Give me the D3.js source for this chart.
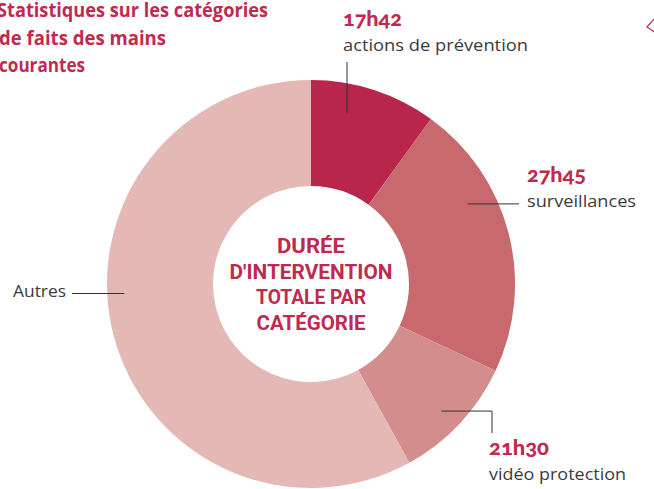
<!DOCTYPE html>
<html>
<head>
<meta charset="utf-8">
<script src="https://cdn.jsdelivr.net/npm/d3@7"></script>
<style>
  body { margin: 0; background: #fff; }
  svg { display: block; }
</style>
</head>
<body>
<svg id="chart"></svg>
<script>
// données
const categories = ["actions de prévention", "surveillances", "vidéo protection", "Autres"];
const durations = ["17h42", "27h45", "21h30", ""];
const shares = [10, 22, 10, 58]; // part angulaire (%) de chaque secteur
const colors = ["#b8264b", "#c7696d", "#d48d8d", "#e4b8b5"];

const titleLines = ["Statistiques sur les catégories", "de faits des mains", "courantes"];
const centerLines = ["DURÉE", "D'INTERVENTION", "TOTALE PAR", "CATÉGORIE"];

const config = {
    width: 654,
    height: 489,
    cx: 311,
    cy: 284,
    outer: 204,
    inner: 98
};

const crimson = "#bf2a50";
const textGray = "#3a3a3a";

const svg = d3.select("#chart")
    .attr("width", config.width)
    .attr("height", config.height);

// titre
const titleLen = [271, 167, 86];
svg.append("g")
    .selectAll("text")
    .data(titleLines)
    .join("text")
    .attr("x", (d, i) => [-3, -1, -1][i])
    .attr("y", (d, i) => 17 + i * 27.7)
    .attr("fill", crimson)
    .attr("font-family", "'Open Sans', sans-serif")
    .attr("font-weight", "bold")
    .attr("font-size", "20px")
    .attr("textLength", (d, i) => titleLen[i])
    .attr("lengthAdjust", "spacingAndGlyphs")
    .text(d => d);

// petit losange en haut à droite
svg.append("path")
    .attr("d", "M656,17 L647,27 L656,33")
    .attr("fill", "none")
    .attr("stroke", crimson)
    .attr("stroke-width", 1.2);

// donut
const pie = d3.pie().sort(null).value(d => d);
const arcs = pie(shares);
const arc = d3.arc().innerRadius(config.inner).outerRadius(config.outer);
const color = d3.scaleOrdinal().domain(categories).range(colors);

const g = svg.append("g")
    .attr("transform", `translate(${config.cx},${config.cy})`);

g.selectAll("path")
    .data(arcs)
    .join("path")
    .attr("d", arc)
    .attr("fill", (d, i) => color(categories[i]));

// texte central
const centerLen = [68, 163, 110, 109];
g.selectAll("text.center")
    .data(centerLines)
    .join("text")
    .attr("class", "center")
    .attr("x", 0)
    .attr("y", (d, i) => -31 + i * 25.6)
    .attr("text-anchor", "middle")
    .attr("fill", crimson)
    .attr("font-family", "Roboto, sans-serif")
    .attr("font-weight", "bold")
    .attr("font-size", "19.5px")
    .attr("textLength", (d, i) => centerLen[i])
    .attr("lengthAdjust", "spacingAndGlyphs")
    .text(d => d);

// étiquettes : point d'ancrage sur le secteur + coude + texte
const labelLayout = [
    {frac: 0.33, r: 175, path: p => [p, [p[0], 62]], tx: 343, ty: 26, dLen: 59, cLen: 185},
    {frac: 0.34, r: 176, path: p => [p, [519, p[1]]], tx: 527, ty: 182, dLen: 59, cLen: 109},
    {frac: 0.53, r: 182, path: p => [p, [492, p[1]], [492, 433]], tx: 489, ty: 455, dLen: 60, cLen: 137},
    {frac: 0.555, r: 187, path: p => [p, [72, p[1]]], tx: 13, ty: 297, dLen: 0, cLen: 53}
];

const line = d3.line();

arcs.forEach((a, i) => {
    const lay = labelLayout[i];
    const ang = a.startAngle + lay.frac * (a.endAngle - a.startAngle);
    const p = [config.cx + lay.r * Math.sin(ang), config.cy - lay.r * Math.cos(ang)];

    svg.append("path")
        .attr("d", line(lay.path(p)))
        .attr("fill", "none")
        .attr("stroke", "#333")
        .attr("stroke-width", 1);

    if (durations[i]) {
        svg.append("text")
            .attr("x", lay.tx)
            .attr("y", lay.ty)
            .attr("fill", crimson)
            .attr("font-family", "Lato, sans-serif")
            .attr("font-weight", "900")
            .attr("font-size", "21px")
            .style("font-variant-numeric", "oldstyle-nums")
            .attr("textLength", lay.dLen)
            .attr("lengthAdjust", "spacingAndGlyphs")
            .text(durations[i]);
        svg.append("text")
            .attr("x", lay.tx)
            .attr("y", lay.ty + 25)
            .attr("fill", textGray)
            .attr("font-family", "'Open Sans', sans-serif")
            .attr("font-size", "17px")
            .attr("textLength", lay.cLen)
            .attr("lengthAdjust", "spacingAndGlyphs")
            .text(categories[i]);
    } else {
        svg.append("text")
            .attr("x", lay.tx)
            .attr("y", lay.ty)
            .attr("fill", textGray)
            .attr("font-family", "'Open Sans', sans-serif")
            .attr("font-size", "17px")
            .attr("textLength", lay.cLen)
            .attr("lengthAdjust", "spacingAndGlyphs")
            .text(categories[i]);
    }
});
</script>
</body>
</html>
